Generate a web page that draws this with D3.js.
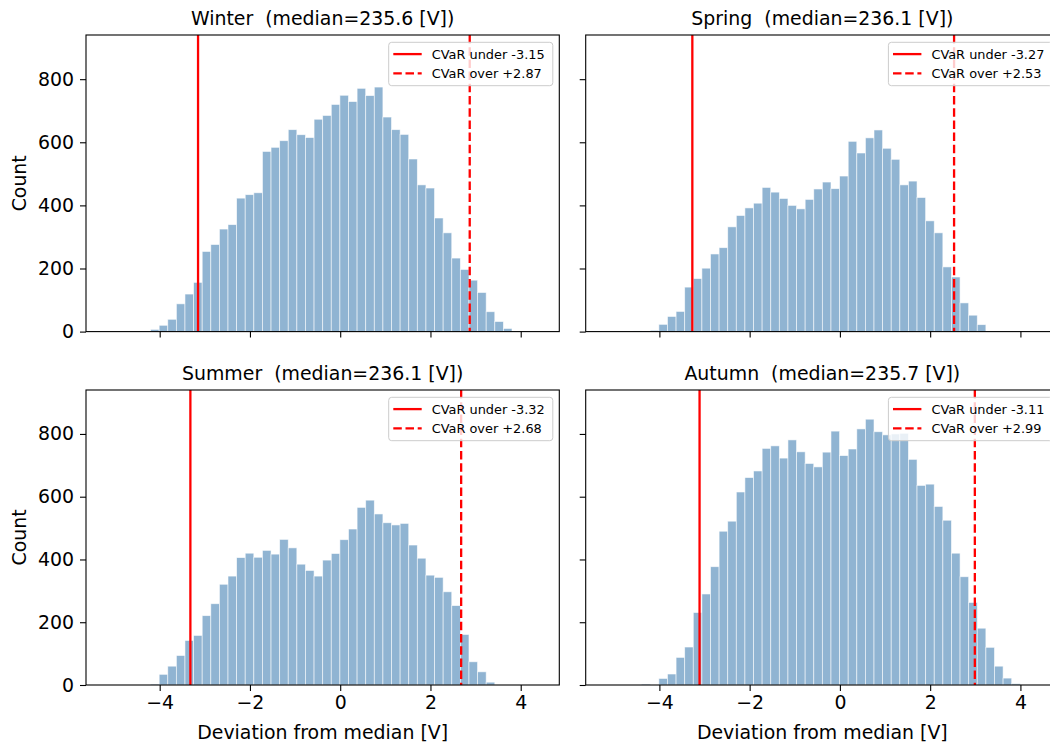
<!DOCTYPE html>
<html>
<head>
<meta charset="utf-8">
<script src="https://cdn.jsdelivr.net/npm/d3@7"></script>
<style>
  html, body { margin: 0; padding: 0; background: #fff; }
  svg text { font-family: "DejaVu Sans", sans-serif; fill: #000; }
</style>
</head>
<body>
<svg id="chart" width="1050" height="746"></svg>
<script>
// Seasonal voltage deviation histograms (50 shared bins)
const seasons = ["Winter", "Spring", "Summer", "Autumn"];
const medians = [235.6, 236.1, 236.1, 235.7];
const cvarUnder = [-3.15, -3.27, -3.32, -3.11];
const cvarOver = [2.87, 2.53, 2.68, 2.99];

// shared bin layout
const binLo = -5.156;
const binHi = 4.379;
const binCount = 50;

// index of the first bin shown for each season, then its counts
const firstBin = [5, 3, 5, 4];
const winterCounts = [7, 20, 39, 88, 119, 156, 254, 276, 325, 339, 423, 434, 440, 571, 584, 605, 640, 624, 615, 673, 685, 720, 749, 729, 771, 748, 775, 680, 640, 625, 547, 465, 455, 360, 313, 233, 197, 163, 124, 63, 32, 10];
const springCounts = [2, 0, 4, 23, 48, 64, 141, 168, 201, 246, 266, 332, 368, 392, 407, 457, 442, 422, 400, 389, 419, 452, 474, 453, 493, 603, 566, 614, 639, 581, 546, 465, 477, 425, 351, 313, 205, 173, 91, 52, 22];
const summerCounts = [3, 34, 60, 94, 142, 158, 221, 259, 321, 347, 406, 420, 407, 429, 417, 464, 437, 385, 365, 347, 398, 419, 463, 497, 566, 589, 545, 517, 510, 515, 446, 404, 350, 343, 297, 253, 161, 74, 42, 9];
const autumnCounts = [3, 0, 21, 35, 88, 121, 231, 290, 377, 490, 522, 615, 661, 682, 754, 762, 723, 781, 743, 706, 695, 742, 809, 731, 752, 816, 847, 807, 797, 800, 802, 719, 636, 640, 569, 525, 420, 345, 263, 181, 120, 60, 22, 4];
const allCounts = [winterCounts, springCounts, summerCounts, autumnCounts];

const xTicks = [-4, -2, 0, 2, 4];
const yTicks = [0, 200, 400, 600, 800];
const xDomain = [-5.633, 4.855];
const yDomain = [0, 940];

const xLabel = "Deviation from median [V]";
const yLabel = "Count";

// ---- layout ----
const svg = d3.select("#chart");
const colX = [86, 585.7];
const rowY = [35, 390];
const pw = 473.3;
const ph = [296.6, 295];
const FS = 18.9;

const binW = (binHi - binLo) / binCount;

const x = d3.scaleLinear().domain(xDomain).range([0, pw]);

seasons.forEach((name, i) => {
  const col = i % 2, row = Math.floor(i / 2);
  const h = ph[row];
  const y = d3.scaleLinear().domain(yDomain).range([h, 0]);
  const g = svg.append("g").attr("transform", `translate(${colX[col]},${rowY[row]})`);

  const bins = allCounts[i].map((c, j) => {
    const k = firstBin[i] + j;
    return { x0: binLo + k * binW, x1: binLo + (k + 1) * binW, count: c };
  });

  g.append("g").selectAll("rect").data(bins).join("rect")
    .attr("x", d => x(d.x0))
    .attr("width", d => x(d.x1) - x(d.x0))
    .attr("y", d => y(d.count))
    .attr("height", d => h - y(d.count))
    .attr("fill", "#4682b4")
    .attr("fill-opacity", 0.6)
    .attr("stroke", "#ffffff")
    .attr("stroke-opacity", 0.7)
    .attr("stroke-width", 0.8);

  // CVaR markers
  g.append("line")
    .attr("x1", x(cvarUnder[i])).attr("x2", x(cvarUnder[i]))
    .attr("y1", 0).attr("y2", h)
    .attr("stroke", "#ff0000").attr("stroke-width", 2.3);
  g.append("line")
    .attr("x1", x(cvarOver[i])).attr("x2", x(cvarOver[i]))
    .attr("y1", 0).attr("y2", h)
    .attr("stroke", "#ff0000").attr("stroke-width", 2.3)
    .attr("stroke-dasharray", "8.5,3.7");

  // axes
  const xAxis = d3.axisBottom(x).tickValues(xTicks).tickSize(6).tickPadding(5)
    .tickFormat(row === 1 ? d3.format("d") : () => "");
  const xa = g.append("g").attr("transform", `translate(0,${h})`).call(xAxis);
  const yAxis = d3.axisLeft(y).tickValues(yTicks).tickSize(6).tickPadding(6)
    .tickFormat(col === 0 ? d3.format("d") : () => "");
  const ya = g.append("g").call(yAxis);
  [xa, ya].forEach(a => {
    a.select(".domain").remove();
    a.selectAll(".tick line").attr("stroke", "#000").attr("stroke-width", 1.1);
    a.selectAll(".tick text").attr("font-size", FS).attr("font-family", "DejaVu Sans").attr("fill", "#000");
  });

  // frame
  g.append("rect").attr("x", 0).attr("y", 0).attr("width", pw).attr("height", h)
    .attr("fill", "none").attr("stroke", "#000").attr("stroke-width", 1.1);

  // title
  g.append("text")
    .attr("x", pw / 2).attr("y", -10)
    .attr("text-anchor", "middle")
    .attr("font-size", FS)
    .style("white-space", "pre")
    .text(`${name}  (median=${medians[i].toFixed(1)} [V])`);

  // legend
  const lg = g.append("g").attr("transform", "translate(302.7,7.3)");
  lg.append("rect").attr("width", pw - 6.5 - 302.7).attr("height", 43.4)
    .attr("rx", 3).attr("ry", 3)
    .attr("fill", "#fff").attr("fill-opacity", 0.8)
    .attr("stroke", "#cccccc").attr("stroke-width", 1);
  const entries = [
    { label: `CVaR under ${cvarUnder[i].toFixed(2)}`, dash: null },
    { label: `CVaR over +${cvarOver[i].toFixed(2)}`, dash: "8.5,3.7" }
  ];
  entries.forEach((e, j) => {
    const cy = 11.8 + j * 19.3;
    const ln = lg.append("line").attr("x1", 4.6).attr("x2", 33).attr("y1", cy).attr("y2", cy)
      .attr("stroke", "#ff0000").attr("stroke-width", 2.3);
    if (e.dash) ln.attr("stroke-dasharray", e.dash);
    lg.append("text").attr("x", 43).attr("y", cy).attr("dy", "0.36em")
      .attr("font-size", 12.9).text(e.label);
  });

  // axis labels
  if (row === 1) {
    g.append("text").attr("x", pw / 2).attr("y", h + 54)
      .attr("text-anchor", "middle").attr("font-size", FS).text(xLabel);
  }
  if (col === 0) {
    g.append("text")
      .attr("transform", `translate(${19.5 - colX[0] + 6.5},${h / 2}) rotate(-90)`)
      .attr("text-anchor", "middle").attr("font-size", FS).text(yLabel);
  }
});
</script>
</body>
</html>
